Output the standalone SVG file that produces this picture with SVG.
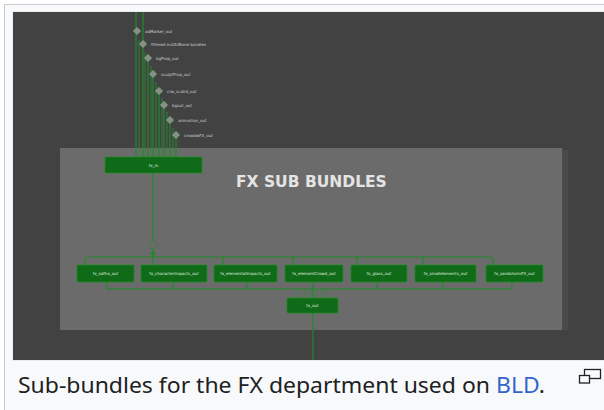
<svg xmlns="http://www.w3.org/2000/svg" width="604" height="410" viewBox="0 0 604 410">
<defs>
<style>
.node rect{fill:#0f6b17;stroke:#1f8a27;stroke-width:0.8}
.node text{font-family:"DejaVu Sans",sans-serif;font-size:4px;fill:#e0ece0;text-anchor:middle}
.wire{fill:none;stroke:#1f8a2a;stroke-width:1.2}
.thin{fill:none;stroke:#2a8f33;stroke-width:0.8}
.dia{fill:#8c8c8c;stroke:#3a9a40;stroke-width:0.6}
.dlab{font-family:"DejaVu Sans",sans-serif;font-size:4px;fill:#d0d0d0}
</style>
</defs>
<rect x="0" y="0" width="604" height="410" fill="#ffffff"/>
<rect x="4.5" y="4.5" width="610" height="420" fill="#f8f9fa" stroke="#c8ccd1" stroke-width="1"/>
<rect x="12.5" y="11.5" width="600" height="349" fill="#424242" stroke="#eaecf0" stroke-width="1"/>
<rect x="60" y="148" width="502" height="182" fill="#6b6b6b"/>
<rect x="562" y="150" width="6" height="180" fill="#4a4a4a"/>
<text x="236" y="187" font-family="DejaVu Sans,sans-serif" font-weight="bold" font-size="15.5" fill="#e4e4e4">FX SUB BUNDLES</text>

<g id="connectors">
<path class="wire" d="M136 12V157M143 12V157M148 58V157M153 74V157M159 91V157M164 105V157M170 120V157M176 135V157"/>
<path class="thin" d="M139 40V157M145 52V157M151 66V157M156 82V157M162 98V157M167 112V157M173 128V157"/>
<path class="wire" d="M153 173V241M153 249V265"/>
<path class="wire" d="M85 265V261Q85 257 89 257H489Q493 257 493 261V265M223 257V265M293 257V265M357 257V265M423 257V265"/>
<path class="wire" d="M107 282V289H512V282M173 282V289M247 282V289M377 282V289M443 282V289"/>
<path class="thin" d="M300 289L296 298M306 289L303 298M311 289L310 298M316 289L317 298M321 289L323 298M326 289L329 298"/>
<path class="wire" d="M313 282V298M313 313V360"/>
<circle cx="153" cy="245" r="4" fill="none" stroke="#4a7a4a" stroke-width="1"/>
<path d="M150 255L153 250L156 255Z" fill="#1f8a2a"/>
</g>

<g id="inputs">
<g><path class="dia" d="M137 27L141 31L137 35L133 31Z"/><text class="dlab" x="145" y="32.5">adMarker_out</text></g>
<g><path class="dia" d="M143 40L147 44L143 48L139 44Z"/><text class="dlab" x="151" y="45.5">filtered instAllBone bundles</text></g>
<g><path class="dia" d="M148 54L152 58L148 62L144 58Z"/><text class="dlab" x="156" y="59.5">bgProp_out</text></g>
<g><path class="dia" d="M153 70L157 74L153 78L149 74Z"/><text class="dlab" x="161" y="75.5">sculptProp_out</text></g>
<g><path class="dia" d="M159 87L163 91L159 95L155 91Z"/><text class="dlab" x="167" y="92.5">crw_scalrd_out</text></g>
<g><path class="dia" d="M164 101L168 105L164 109L160 105Z"/><text class="dlab" x="172" y="106.5">bgout_out</text></g>
<g><path class="dia" d="M170 116L174 120L170 124L166 120Z"/><text class="dlab" x="178" y="121.5">animation_out</text></g>
<g><path class="dia" d="M176 131L180 135L176 139L172 135Z"/><text class="dlab" x="184" y="136.5">crowdwFX_out</text></g>
</g>

<g id="fx_in" class="node"><rect x="105" y="157" width="97" height="16" rx="1"/><text x="153.5" y="166.5">fx_in</text></g>
<g id="fx_saflra_out" class="node"><rect x="77" y="265" width="57" height="17" rx="1"/><text x="105.5" y="275">fx_saflra_out</text></g>
<g id="fx_characterImpacts_out" class="node"><rect x="141" y="265" width="66" height="17" rx="1"/><text x="174" y="275">fx_characterImpacts_out</text></g>
<g id="fx_elementalImpacts_out" class="node"><rect x="214" y="265" width="63" height="17" rx="1"/><text x="245.5" y="275">fx_elementalImpacts_out</text></g>
<g id="fx_elementCrowd_out" class="node"><rect x="285" y="265" width="58" height="17" rx="1"/><text x="314" y="275">fx_elementCrowd_out</text></g>
<g id="fx_glass_out" class="node"><rect x="351" y="265" width="56" height="17" rx="1"/><text x="379" y="275">fx_glass_out</text></g>
<g id="fx_smallelements_out" class="node"><rect x="415" y="265" width="61" height="17" rx="1"/><text x="445.5" y="275">fx_smallelements_out</text></g>
<g id="fx_sandstormFX_out" class="node"><rect x="486" y="265" width="57" height="17" rx="1"/><text x="514.5" y="275">fx_sandstormFX_out</text></g>
<g id="fx_out" class="node"><rect x="287" y="298" width="51" height="15" rx="1"/><text x="312.5" y="307">fx_out</text></g>

<text x="18" y="393" font-family="Noto Sans,Open Sans,sans-serif" font-size="21" fill="#202122" textLength="527" lengthAdjust="spacingAndGlyphs">Sub-bundles for the FX department used on <tspan fill="#3366cc">BLD</tspan>.</text>
<rect x="584.5" y="369.5" width="16" height="9" fill="none" stroke="#202122" stroke-width="1.3"/>
<rect x="579.5" y="375.5" width="10" height="7.5" fill="#f8f9fa" stroke="#202122" stroke-width="1.3"/>
</svg>
